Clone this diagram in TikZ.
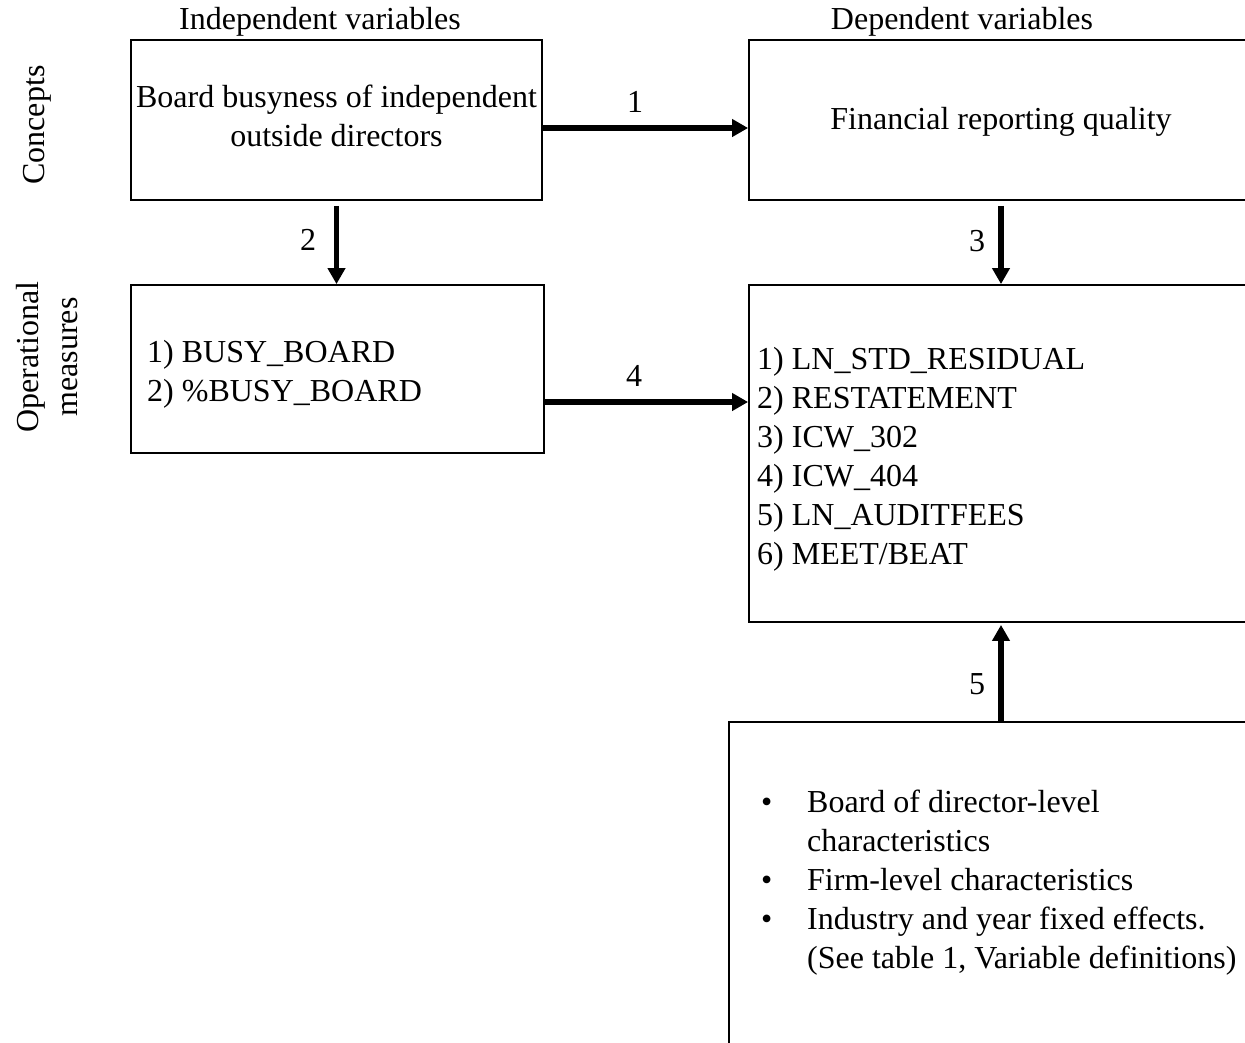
\documentclass[tikz,border=0pt]{standalone}
\usepackage{fontspec}
\setmainfont{Liberation Serif}
\usetikzlibrary{arrows.meta}
\tikzset{
  box/.style={draw=black, line width=1.8pt, rectangle, inner sep=0pt},
  txt/.style={inner sep=0pt, font=\fontsize{32}{39}\selectfont},
  arr/.style={line width=5.5pt, -{Triangle[length=16pt,width=17pt]}},
  lbl/.style={inner sep=0pt, font=\fontsize{32}{39}\selectfont}
}
\begin{document}
\begin{tikzpicture}[x=1pt,y=-1pt]
\useasboundingbox (0,0) rectangle (1245,1042);
\clip (0,0) rectangle (1245,1042);
\fill[white] (0,0) rectangle (1245,1042);
% boxes
\node[box, minimum width=411pt, minimum height=160pt] (A) at (336.5,120) {};
\node[box, minimum width=504pt, minimum height=160pt] (B) at (1001,120) {};
\node[box, minimum width=413pt, minimum height=168pt] (C) at (337.5,369) {};
\node[box, minimum width=504pt, minimum height=337pt] (D) at (1001,453.5) {};
\node[box, minimum width=544pt, minimum height=400pt] (E) at (1001,922) {};
% headers
\node[txt] (hind) at (320,22) {Independent variables};
\node[txt] (hdep) at (962,22) {Dependent variables};
\node[txt, rotate=90] (rconc) at (37,125) {Concepts};
\node[txt, rotate=90, align=center] (roper) at (47,357) {Operational\\measures};
% box texts
\node[txt, align=center] (tA) at (336.5,116) {Board busyness of independent\\outside directors};
\node[txt] (tB) at (1001,122) {Financial reporting quality};
\node[txt, align=left, anchor=west] (tC) at (147,374) {1) BUSY\_BOARD\\2) \%BUSY\_BOARD};
\node[txt, align=left, anchor=west] (tD) at (757,459) {1) LN\_STD\_RESIDUAL\\2) RESTATEMENT\\3) ICW\_302\\4) ICW\_404\\5) LN\_AUDITFEES\\6) MEET/BEAT};
\node[txt, align=left, anchor=west] (tE) at (761,883) {\makebox[46pt][l]{•}Board of director-level\\\hspace*{46pt}characteristics\\\makebox[46pt][l]{•}Firm-level characteristics\\\makebox[46pt][l]{•}Industry and year fixed effects.\\\hspace*{46pt}(See table 1, Variable definitions)};
% arrows
\draw[arr] ([yshift=-8pt]A.east) -- ([yshift=-8pt]B.west);
\draw[arr] ([yshift=-5pt]A.south) -- (A.south |- C.north);
\draw[arr] ([yshift=-5pt]B.south) -- (D.north);
\draw[arr] ([yshift=-33pt]C.east) -- ([yshift=-33pt]D.west |- C.east);
\draw[arr] (E.north) -- ([yshift=-2pt]D.south);
% arrow labels
\node[lbl] (l1) at (635,102) {1};
\node[lbl] (l2) at (308,240) {2};
\node[lbl] (l3) at (977,241) {3};
\node[lbl] (l4) at (634,376) {4};
\node[lbl] (l5) at (977,684) {5};
\end{tikzpicture}
\end{document}
